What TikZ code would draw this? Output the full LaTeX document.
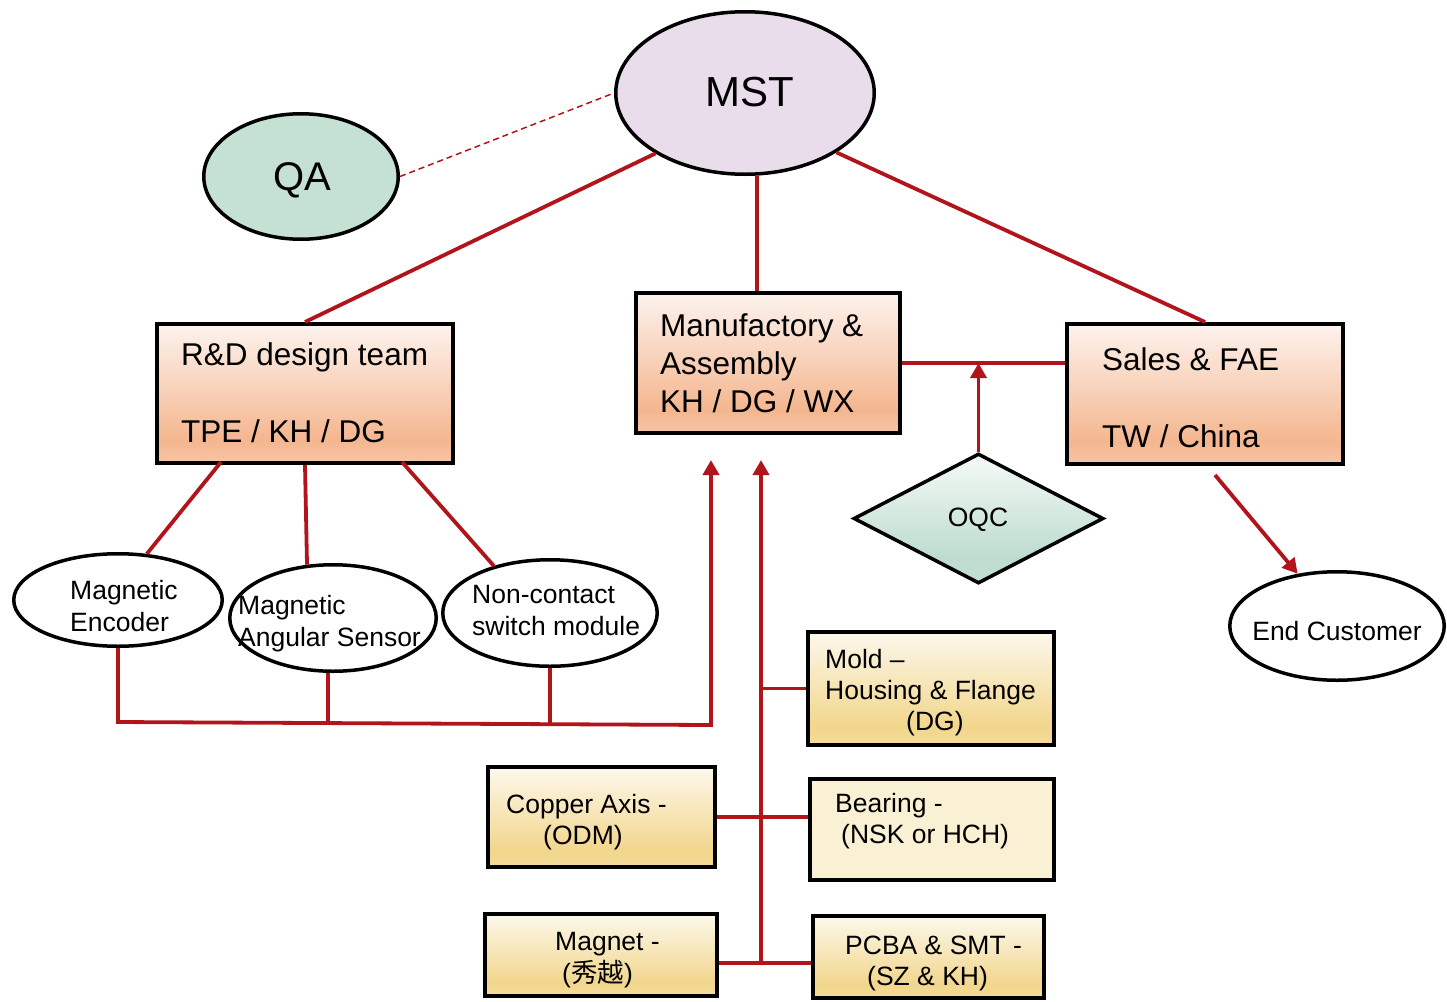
\documentclass[tikz,border=0pt]{standalone}
\usepackage{fontspec}
\setmainfont{Liberation Sans}
\newfontfamily\cjk{Noto Sans CJK SC}
\usetikzlibrary{shapes.geometric,arrows.meta}
\definecolor{lnred}{RGB}{178,20,28}
\definecolor{orTop}{HTML}{FDF3EE}
\definecolor{orDeep}{HTML}{F4B68F}
\definecolor{orLow}{HTML}{F7C5A6}
\definecolor{yeTop}{HTML}{FDF8EC}
\definecolor{yeDeep}{HTML}{F2D68C}
\definecolor{yeLow}{HTML}{F3DC9A}
\definecolor{grTop}{HTML}{F5FAF7}
\definecolor{grDeep}{HTML}{BDDCCF}
\definecolor{grLow}{HTML}{C3DFD3}
\definecolor{bearfill}{HTML}{FAF0D3}
\definecolor{mstfill}{HTML}{E9DDEB}
\definecolor{qafill}{HTML}{C4E1D4}
\pgfdeclareverticalshading{orsh}{100bp}{color(0bp)=(orLow); color(25bp)=(orLow); color(33bp)=(orDeep); color(75bp)=(orTop); color(100bp)=(orTop)}
\pgfdeclareverticalshading{yesh}{100bp}{color(0bp)=(yeLow); color(25bp)=(yeLow); color(33bp)=(yeDeep); color(75bp)=(yeTop); color(100bp)=(yeTop)}
\pgfdeclareverticalshading{grsh}{100bp}{color(0bp)=(grLow); color(25bp)=(grLow); color(35bp)=(grDeep); color(75bp)=(grTop); color(100bp)=(grTop)}
\tikzset{
  obox/.style={draw=black, line width=4pt, rectangle, shading=orsh, inner sep=0pt},
  ybox/.style={draw=black, line width=4pt, rectangle, shading=yesh, inner sep=0pt},
  ell/.style={draw=black, line width=3.5pt, ellipse, inner sep=0pt, fill=white},
  conn/.style={draw=lnred, line width=3.8pt},
  arr/.style={conn, -{Triangle[width=16pt,length=15pt]}},
  tbig/.style={inner sep=0pt, anchor=base, font=\fontsize{42}{50}\selectfont},
  thd/.style={inner sep=0pt, anchor=base west, font=\fontsize{31.5}{38}\selectfont},
  tsm/.style={inner sep=0pt, anchor=base west, font=\fontsize{26.5}{32}\selectfont},
  tsmc/.style={inner sep=0pt, anchor=base, font=\fontsize{26.5}{32}\selectfont},
}
\begin{document}
\begin{tikzpicture}[x=1pt,y=-1pt]
\useasboundingbox (0,0) rectangle (1447,1001);
% ellipses
\node[ell, fill=mstfill, minimum width=258.5pt, minimum height=162.5pt] (mst) at (745,93) {};
\node[ell, fill=qafill, minimum width=194.5pt, minimum height=125.5pt] (qa) at (301,176.5) {};
\node[ell, minimum width=208.5pt, minimum height=92.5pt] (enc) at (118,600) {};
\node[ell, minimum width=206.5pt, minimum height=106.5pt] (ang) at (333,618) {};
\node[ell, minimum width=214.5pt, minimum height=106.5pt] (nc) at (550,613) {};
\node[ell, minimum width=214.5pt, minimum height=108.5pt] (ec) at (1337,626) {};
\node[draw=black, line width=3.5pt, diamond, shading=grsh, inner sep=0pt, minimum width=250pt, minimum height=130pt, aspect=1.92] (oqc) at (978.5,518.5) {};
% boxes
\node[obox, minimum width=296pt, minimum height=139pt] (rd) at (305,393.5) {};
\node[obox, minimum width=264pt, minimum height=140pt] (man) at (768,363) {};
\node[obox, minimum width=276pt, minimum height=140pt] (sales) at (1205,394) {};
\node[ybox, minimum width=246pt, minimum height=113pt] (mold) at (931,688.5) {};
\node[draw=black, line width=4pt, rectangle, fill=bearfill, inner sep=0pt, minimum width=244pt, minimum height=101pt] (bearing) at (932,829.5) {};
\node[ybox, minimum width=231pt, minimum height=82pt] (pcba) at (928.5,957) {};
\node[ybox, minimum width=227pt, minimum height=100pt] (copper) at (601.5,817) {};
\node[ybox, minimum width=232pt, minimum height=82pt] (magnet) at (601,955) {};
% texts
\node[tbig] (tmst) at (750,106) {MST};
\node[tbig, font=\fontsize{40}{48}\selectfont] (tqa) at (302,190) {QA};
\node[thd] (trd1) at (181,365) {R\&D design team};
\node[thd] (trd2) at (181,442) {TPE / KH / DG};
\node[thd] (tman1) at (660,336) {Manufactory \&};
\node[thd] (tman2) at (660,374) {Assembly};
\node[thd] (tman3) at (660,412) {KH / DG / WX};
\node[thd] (tsa1) at (1102,370) {Sales \& FAE};
\node[thd] (tsa2) at (1102,447) {TW / China};
\node[tsmc] (toqc) at (978,526) {OQC};
\node[tsmc] (tec) at (1337,640) {End Customer};
\node[tsm] (tenc1) at (70,599) {Magnetic};
\node[tsm] (tenc2) at (70,631) {Encoder};
\node[tsm] (tang1) at (238,614) {Magnetic};
\node[tsm] (tang2) at (238,646) {Angular Sensor};
\node[tsm] (tnc1) at (472,603) {Non-contact};
\node[tsm] (tnc2) at (472,635) {switch module};
\node[tsm] (tmo1) at (825,668) {Mold –};
\node[tsm] (tmo2) at (825,699) {Housing \& Flange};
\node[tsm] (tmo3) at (906,730) {(DG)};
\node[tsm] (tbe1) at (835,812) {Bearing -};
\node[tsm] (tbe2) at (841,843) {(NSK or HCH)};
\node[tsm] (tco1) at (506,813) {Copper Axis -};
\node[tsm] (tco2) at (543,844) {(ODM)};
\node[tsm] (tma1) at (555,950) {Magnet -};
\node[tsm] (tma2) at (562,982) {({\cjk 秀越})};
\node[tsm] (tpc1) at (845,954) {PCBA \& SMT -};
\node[tsm] (tpc2) at (867,985) {(SZ \& KH)};
% coordinates
\coordinate (busL) at (116,722);
\coordinate (busR) at (711,725);
\coordinate (arrA) at (711,460);
\coordinate (trT) at (761,460);
\coordinate (trB) at (761,963);
% connectors
\draw[draw=lnred, line width=1.5pt, dash pattern=on 6pt off 4pt] (qa.east) -- (mst.west);
\draw[conn] (mst.214) -- (rd.north);
\draw[conn] (mst.278) -- (mst.278 |- man.north);
\draw[conn] (mst.327) -- (sales.north);
\draw[conn] (man.east) -- (man.east -| sales.west);
\draw[arr] (oqc.north) -- (oqc.north |- man.east);
\draw[arr] ([xshift=10pt,yshift=-9pt]sales.south) -- (ec.127);
\draw[conn] ([xshift=-84pt,yshift=3pt]rd.south) -- (enc.58);
\draw[conn] (rd.south) -- (ang.116);
\draw[conn] ([xshift=97pt,yshift=3pt]rd.south) -- (nc.140);
\draw[conn] (enc.south) -- (enc.south |- busL);
\draw[conn] ([xshift=-5pt]ang.south) -- ([xshift=-5pt]ang.south |- busL);
\draw[conn] (nc.south) -- (nc.south |- busR);
\draw[arr] (busL) -- (busR) -- (arrA);
\draw[arr] (trB) -- (trT);
\draw[conn] (mold.west) -- (mold.west -| trT);
\draw[conn] (copper.east) -- (copper.east -| bearing.west);
\draw[conn] ([yshift=-8pt]magnet.east) -- ([yshift=-8pt]magnet.east -| pcba.west);
\end{tikzpicture}
\end{document}
